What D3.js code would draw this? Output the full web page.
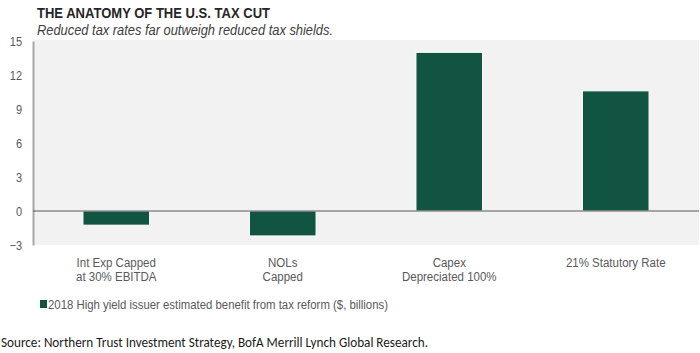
<!DOCTYPE html>
<html>
<head>
<meta charset="utf-8">
<script src="https://cdn.jsdelivr.net/npm/d3@7"></script>
<style>
  body { margin: 0; background: #fff; }
  svg text { font-family: "Liberation Sans Narrow", "Liberation Sans", Arial, sans-serif; }
</style>
</head>
<body>
<div id="container"></div>
<script>
/***** data *****/
let categories = [
  ["Int Exp Capped", "at 30% EBITDA"],
  ["NOLs", "Capped"],
  ["Capex", "Depreciated 100%"],
  ["21% Statutory Rate"]
];
let values = [-1.25, -2.2, 14.0, 10.6];
let yTicks = [-3, 0, 3, 6, 9, 12, 15];
let seriesName = "2018 High yield issuer estimated benefit from tax reform ($, billions)";

/***** chart *****/
var width = 700, height = 353;
var plot = {left: 33, right: 699, top: 40, bottom: 245};

// squeeze text so it looks like a narrow face
function narrow(sel, f) {
  sel.each(function() {
    let n = this.getComputedTextLength();
    d3.select(this).attr("textLength", n * f).attr("lengthAdjust", "spacingAndGlyphs");
  });
}

let svg = d3.select("#container")
  .append("svg")
    .attr("width", width)
    .attr("height", height);

// titles
svg.append("text")
  .attr("x", 37).attr("y", 18)
  .attr("font-size", 15.5).attr("font-weight", "bold")
  .attr("fill", "#262626")
  .text("THE ANATOMY OF THE U.S. TAX CUT")
  .attr("textLength", 233).attr("lengthAdjust", "spacingAndGlyphs");

svg.append("text")
  .attr("x", 37).attr("y", 35)
  .attr("font-size", 14).attr("font-style", "italic")
  .attr("fill", "#404040")
  .text("Reduced tax rates far outweigh  reduced tax shields.")
  .attr("textLength", 296).attr("lengthAdjust", "spacingAndGlyphs");

// plot background
svg.append("rect")
  .attr("x", plot.left).attr("y", plot.top)
  .attr("width", plot.right - plot.left)
  .attr("height", plot.bottom - plot.top)
  .attr("fill", "#f2f2f2");

// scales
var x = d3.scaleBand()
  .domain(d3.range(categories.length))
  .range([plot.left, plot.right])
  .paddingInner(0.6).paddingOuter(0.3);

var y = d3.scaleLinear()
  .domain([-3, 15])
  .range([plot.bottom, plot.top + 1]);

// Y axis
let yAxis = svg.append("g")
  .attr("transform", "translate(" + plot.left + ",0)")
  .call(d3.axisLeft(y).tickValues(yTicks).tickSize(0).tickPadding(11));
yAxis.select(".domain").attr("stroke", "#a6a6a6").attr("stroke-width", 2);
yAxis.selectAll("text")
  .attr("font-size", 12.5).attr("fill", "#595959")
  .style("font-family", "'Liberation Sans Narrow', 'Liberation Sans', Arial, sans-serif")
  .call(narrow, 0.88);

// bars
svg.selectAll(".bar")
  .data(values)
  .enter().append("rect")
    .attr("class", "bar")
    .attr("x", (d, i) => x(i))
    .attr("width", x.bandwidth())
    .attr("y", d => y(Math.max(0, d)))
    .attr("height", d => Math.abs(y(d) - y(0)))
    .attr("fill", "#115441")
    .attr("stroke", "#ffffff")
    .attr("stroke-width", 1);

// zero line
svg.append("line")
  .attr("x1", plot.left).attr("x2", plot.right)
  .attr("y1", y(0)).attr("y2", y(0))
  .attr("stroke", "#595959").attr("stroke-width", 1.2);

// category labels
let cat = svg.selectAll(".cat")
  .data(categories)
  .enter().append("text")
    .attr("class", "cat")
    .attr("text-anchor", "middle")
    .attr("font-size", 12.5)
    .attr("fill", "#595959")
    .attr("transform", (d, i) => "translate(" + (x(i) + x.bandwidth() / 2) + ",267)");
cat.selectAll("tspan")
  .data(d => d)
  .enter().append("tspan")
    .attr("x", 0)
    .attr("dy", (d, i) => i == 0 ? 0 : 14)
    .text(d => d)
    .call(narrow, 0.92);

// legend
svg.append("rect")
  .attr("x", 40).attr("y", 300)
  .attr("width", 7).attr("height", 8)
  .attr("fill", "#115441");
svg.append("text")
  .attr("x", 48).attr("y", 308.5)
  .attr("font-size", 12.5).attr("fill", "#595959")
  .text(seriesName)
  .attr("textLength", 340).attr("lengthAdjust", "spacingAndGlyphs");

// source
svg.append("text")
  .attr("x", 1).attr("y", 347)
  .attr("font-size", 13.5).attr("fill", "#1a1a1a")
  .attr("textLength", 427).attr("lengthAdjust", "spacingAndGlyphs")
  .style("font-family", "Carlito, 'Open Sans', sans-serif")
  .text("Source: Northern Trust Investment Strategy, BofA Merrill Lynch Global Research.");
</script>
</body>
</html>
